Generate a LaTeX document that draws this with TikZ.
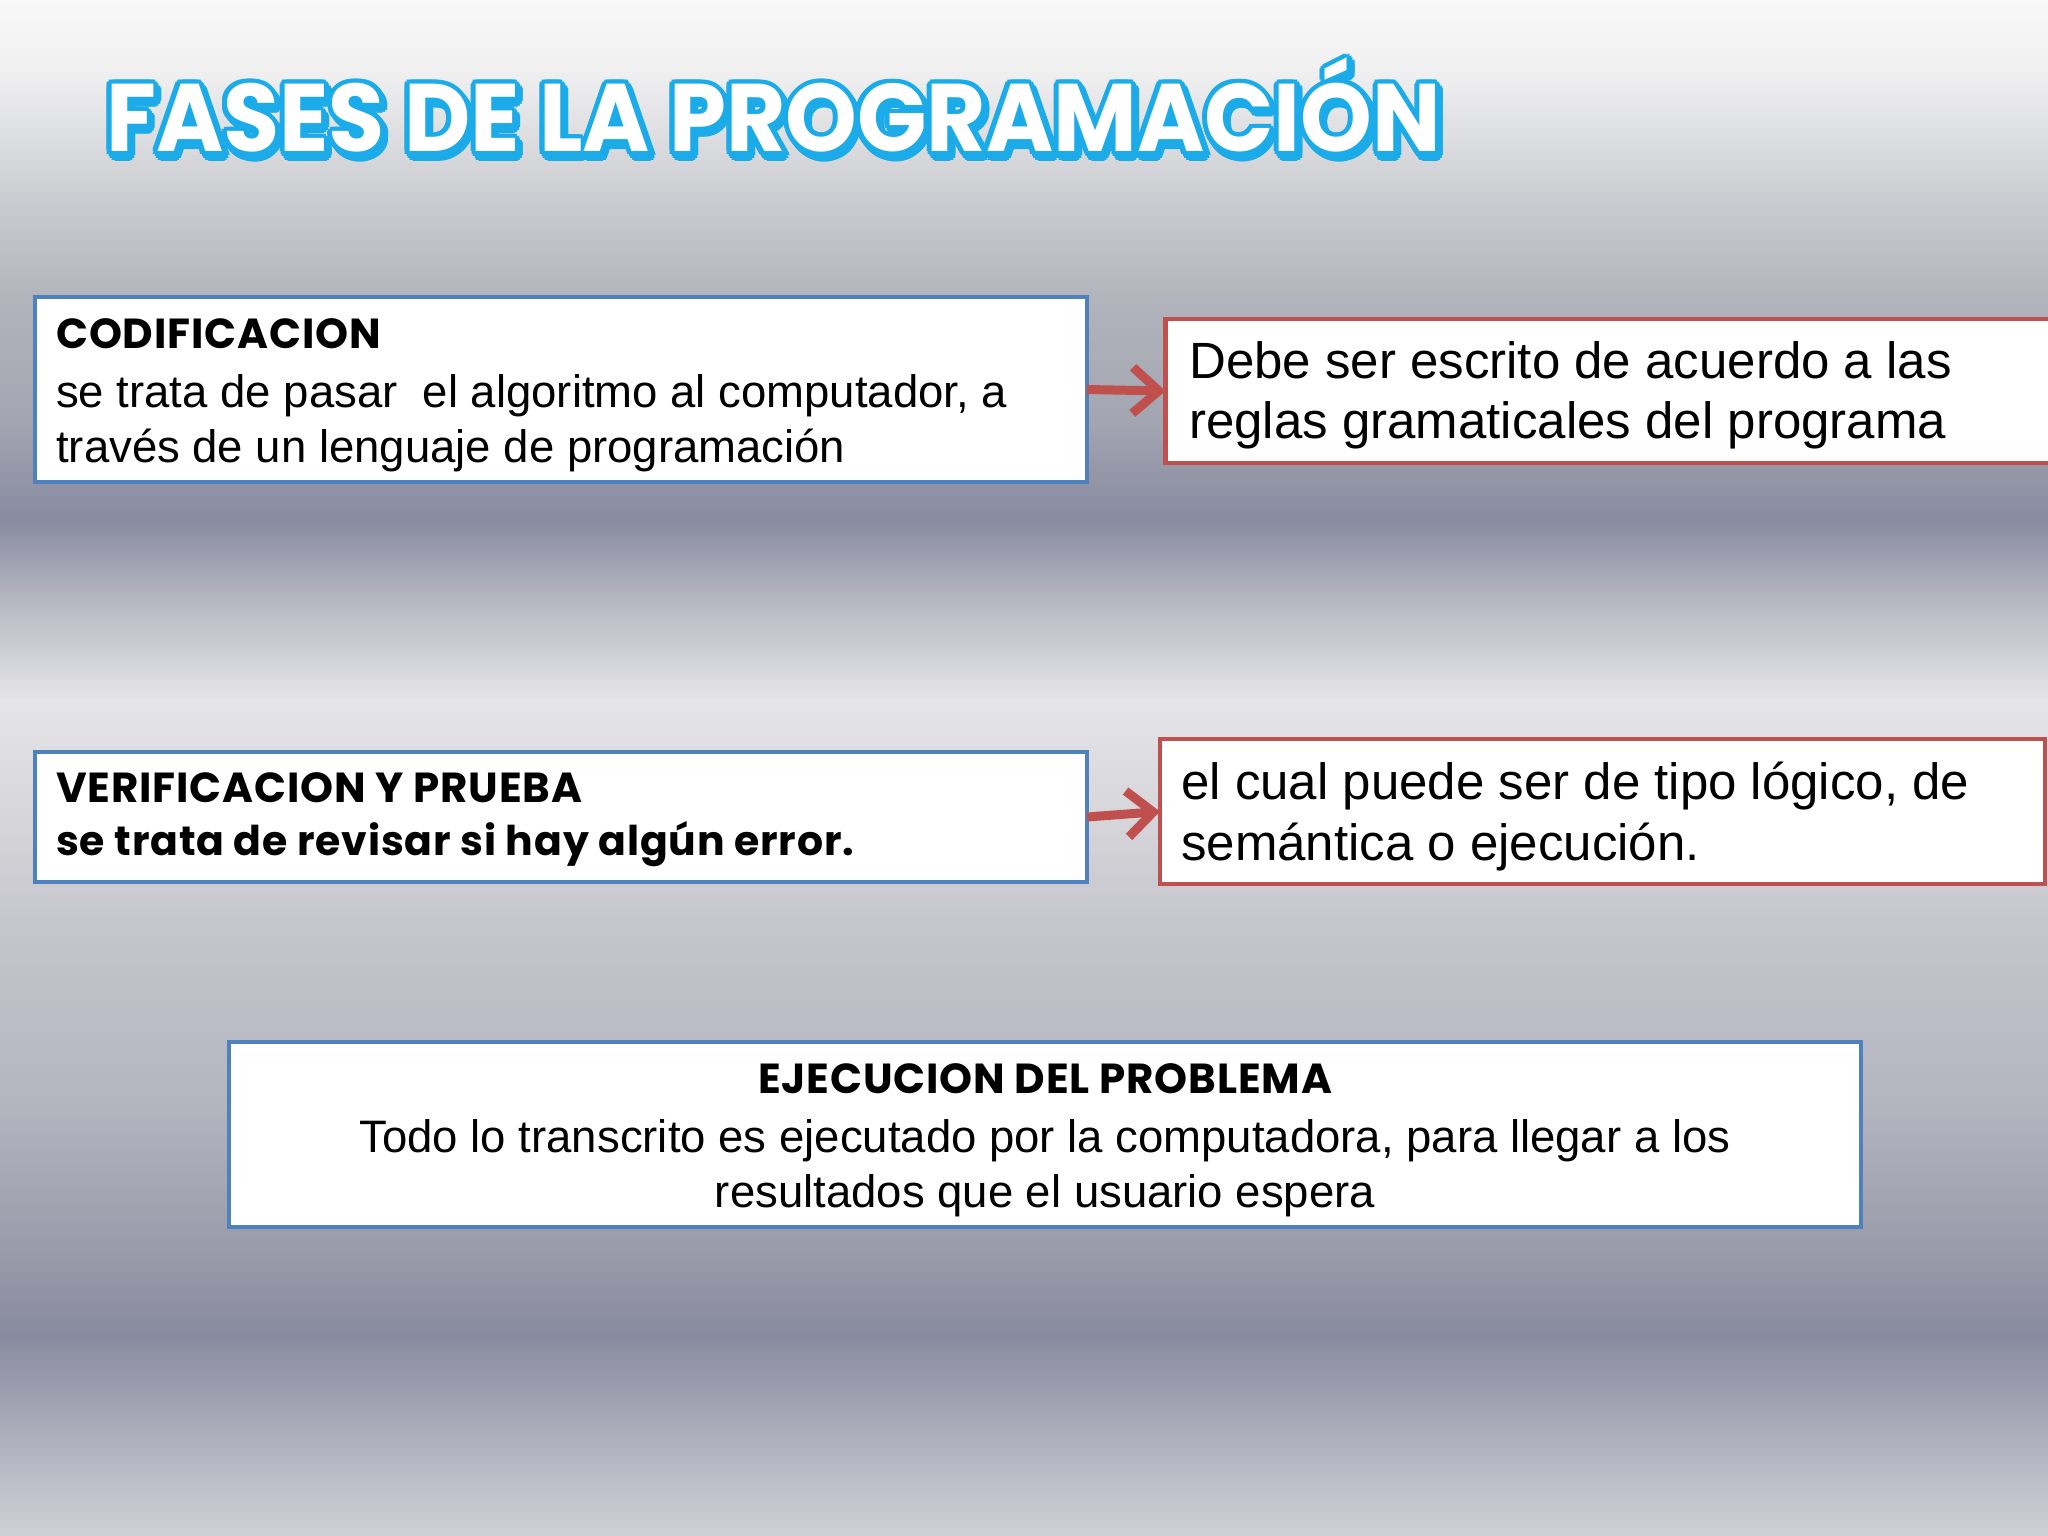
\documentclass[tikz,border=0pt]{standalone}
\usepackage{fontspec}
\setmainfont{Liberation Sans}
\newfontfamily\headfont{Poppins}[LetterSpace=2]
\newfontfamily\titleFill{Poppins}[UprightFont={* Bold}]
\usetikzlibrary{arrows.meta,calc}
\definecolor{boxblue}{HTML}{4F81BD}
\definecolor{boxred}{HTML}{C0504D}
\definecolor{titlecyan}{HTML}{1AABE8}
\definecolor{g0}{HTML}{F8F8F8}
\definecolor{g1}{HTML}{F0F0F1}
\definecolor{g2}{HTML}{CBCCD1}
\definecolor{g3}{HTML}{B2B4BC}
\definecolor{g4}{HTML}{A3A5B1}
\definecolor{g5}{HTML}{888BA0}
\definecolor{g6}{HTML}{B6B7C1}
\definecolor{g7}{HTML}{E5E5E9}
\definecolor{g8}{HTML}{DBDBDF}
\definecolor{g9}{HTML}{C6C6CD}
\definecolor{g10}{HTML}{B4B5BF}
\definecolor{g11}{HTML}{9A9BAA}
\definecolor{g12}{HTML}{888A9F}
\definecolor{g13}{HTML}{ABADBA}
\definecolor{g14}{HTML}{D0D0D6}
\newcommand\titletext{\scalebox{0.95}[1]{\titleFill\fontsize{96}{96}\selectfont FASES DE LA PROGRAMACIÓN}}
\tikzset{
  bluebox/.style={draw=boxblue, line width=4.5pt, fill=white, inner sep=0pt, outer sep=0pt, rectangle},
  redbox/.style={draw=boxred, line width=4.5pt, fill=white, inner sep=0pt, outer sep=0pt, rectangle},
  headtxt/.style={anchor=base west, inner sep=0pt, font=\headfont\bfseries\fontsize{42}{48}\selectfont},
  boldtxt/.style={anchor=base west, inner sep=0pt, font=\headfont\bfseries\fontsize{41}{48}\selectfont},
  smalltxt/.style={anchor=base west, inner sep=0pt, font=\fontsize{45.5}{55}\selectfont},
  bigtxt/.style={anchor=base west, inner sep=0pt, font=\fontsize{51}{60}\selectfont},
  titletxt/.style={anchor=base west, inner sep=0pt},
  conn/.style={draw=boxred, line width=9pt, -{Straight Barb[length=26pt,width=46pt]}}
}
\begin{document}
\begin{tikzpicture}[x=1pt,y=-1pt]
\useasboundingbox (0,0) rectangle (2048,1536);
% background gradient
\shade[top color=g0,bottom color=g1] (0,0) rectangle (2048,70);
\shade[top color=g1,bottom color=g2] (0,70) rectangle (2048,200);
\shade[top color=g2,bottom color=g3] (0,200) rectangle (2048,300);
\shade[top color=g3,bottom color=g4] (0,300) rectangle (2048,420);
\shade[top color=g4,bottom color=g5] (0,420) rectangle (2048,520);
\shade[top color=g5,bottom color=g6] (0,520) rectangle (2048,600);
\shade[top color=g6,bottom color=g7] (0,600) rectangle (2048,700);
\shade[top color=g7,bottom color=g8] (0,700) rectangle (2048,780);
\shade[top color=g8,bottom color=g9] (0,780) rectangle (2048,920);
\shade[top color=g9,bottom color=g10] (0,920) rectangle (2048,1100);
\shade[top color=g10,bottom color=g11] (0,1100) rectangle (2048,1250);
\shade[top color=g11,bottom color=g12] (0,1250) rectangle (2048,1335);
\shade[top color=g12,bottom color=g13] (0,1335) rectangle (2048,1430);
\shade[top color=g13,bottom color=g14] (0,1430) rectangle (2048,1536);
% title: cyan copies around as outline and shadow, white copy on top
\foreach \a in {0,30,...,330} {
  \node[titletxt, text=titlecyan] (tsh\a) at ($(106,152)+(\a:5)+(3,4)$) {\titletext};
}
\foreach \a in {0,30,...,330} {
  \node[titletxt, text=titlecyan] (tol\a) at ($(106,152)+(\a:5)$) {\titletext};
}
\node[titletxt, text=white] (title) at (106,152) {\titletext};
% boxes
\node[bluebox, minimum width=1052pt, minimum height=185pt] (b1) at (561,389.5) {};
\node[redbox, minimum width=900pt, minimum height=144pt] (b2) at (1615.5,391) {};
\node[bluebox, minimum width=1052pt, minimum height=130pt] (b3) at (561,817) {};
\node[redbox, minimum width=885pt, minimum height=145pt] (b4) at (1602.5,811.5) {};
\node[bluebox, minimum width=1632pt, minimum height=185pt] (b5) at (1045,1134.5) {};
% texts
\node[headtxt] (t1h) at (56,348) {CODIFICACION};
\node[smalltxt] (t1a) at (56,407) {se trata de pasar\ \ el algoritmo al computador, a};
\node[smalltxt] (t1b) at (56,462) {través de un lenguaje de programación};
\node[bigtxt] (t2a) at (1189,378) {Debe ser escrito de acuerdo a las};
\node[bigtxt] (t2b) at (1189,438) {reglas gramaticales del programa};
\node[headtxt] (t3h) at (56,802) {VERIFICACION Y PRUEBA};
\node[boldtxt] (t3a) at (56,855) {se trata de revisar si hay algún error.};
\node[bigtxt] (t4a) at (1181,799) {el cual puede ser de tipo lógico, de};
\node[bigtxt] (t4b) at (1181,860) {semántica o ejecución.};
\node[headtxt, anchor=base] (t5h) at (1045,1093) {EJECUCION DEL PROBLEMA};
\node[smalltxt, anchor=base] (t5a) at (1045,1152) {Todo lo transcrito es ejecutado por la computadora, para llegar a los};
\node[smalltxt, anchor=base] (t5b) at (1045,1207) {resultados que el usuario espera};
% connectors
\draw[conn] (b1.east) -- (b2.west);
\draw[conn] (b3.east) -- (b4.west);
\end{tikzpicture}
\end{document}
